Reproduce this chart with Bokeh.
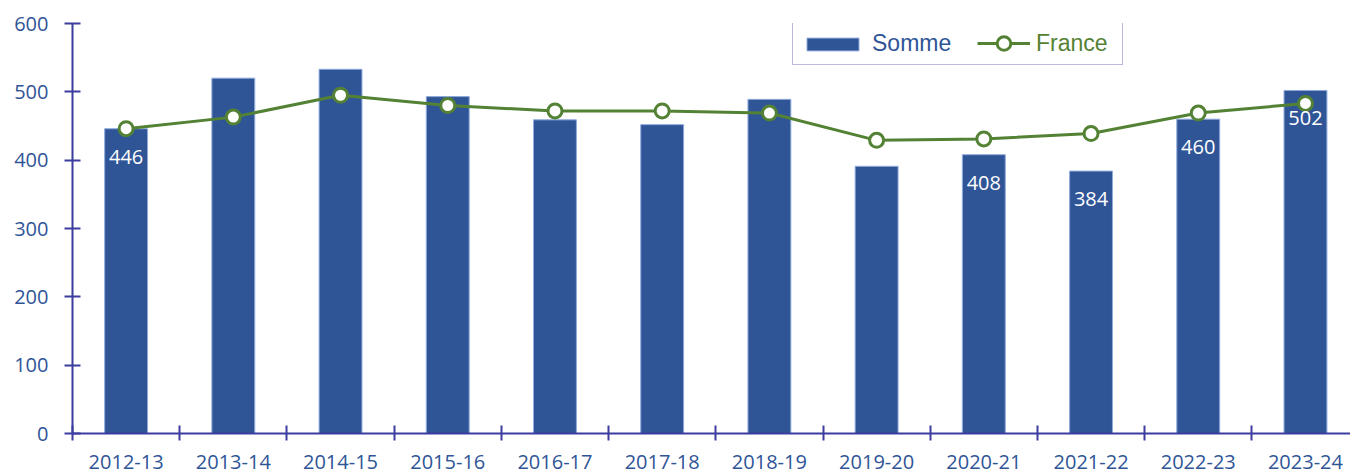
from bokeh.plotting import figure
from bokeh.models import (Range1d, FixedTicker, Legend, LegendItem, ColumnDataSource, LinearAxis)
from bokeh.core.properties import value
from bokeh.embed import file_html
from bokeh.resources import INLINE

categories = ["2012-13", "2013-14", "2014-15", "2015-16", "2016-17", "2017-18",
              "2018-19", "2019-20", "2020-21", "2021-22", "2022-23", "2023-24"]
somme = [446, 520, 533, 493, 459, 452, 489, 391, 408, 384, 460, 502]
france = [446, 463, 495, 480, 472, 472, 469, 429, 431, 439, 469, 483]
labelled = [0, 8, 9, 10, 11]
y_ticks = [0, 100, 200, 300, 400, 500, 600]

BLUE = "#2F5597"
GREEN = "#548235"
AXIS = "#3C3CA0"

xs = [i + 0.5 for i in range(len(categories))]
src = ColumnDataSource(dict(x=xs, somme=somme, france=france))
lab_src = ColumnDataSource(dict(x=[xs[i] for i in labelled],
                                y=[somme[i] for i in labelled],
                                t=[str(somme[i]) for i in labelled]))

p = figure(width=1350, height=474, output_backend="svg", toolbar_location=None,
           x_range=Range1d(0, 11.92), y_range=Range1d(0, 600),
           min_border_left=72, min_border_right=0, min_border_top=23, min_border_bottom=41,
           x_axis_type=None, y_axis_type=None)
p.outline_line_color = None
p.background_fill_color = "white"

# axes
yax = LinearAxis(ticker=FixedTicker(ticks=y_ticks))
yax.axis_line_color = AXIS
yax.axis_line_width = 2
yax.major_tick_line_color = AXIS
yax.major_tick_line_width = 2
yax.major_tick_in = 8
yax.major_tick_out = 8
yax.minor_tick_line_color = None
yax.major_label_text_font = "Open Sans"
yax.major_label_text_font_size = "20px"
yax.major_label_text_color = BLUE
yax.major_label_standoff = 16
p.add_layout(yax, "left")

xax = LinearAxis(ticker=FixedTicker(ticks=xs, minor_ticks=list(range(len(categories) + 1))))
xax.major_label_overrides = {x: c for x, c in zip(xs, categories)}
xax.axis_line_color = AXIS
xax.axis_line_width = 2
xax.major_tick_line_color = None
xax.major_tick_in = 0
xax.major_tick_out = 0
xax.minor_tick_line_color = AXIS
xax.minor_tick_line_width = 2
xax.minor_tick_in = 8
xax.minor_tick_out = 7
xax.major_label_text_font = "Open Sans"
xax.major_label_text_font_size = "20px"
xax.major_label_text_color = BLUE
xax.major_label_standoff = 14
p.add_layout(xax, "below")

p.ygrid.ticker = FixedTicker(ticks=y_ticks)
p.ygrid.grid_line_color = "#D9D9D9"
p.ygrid.grid_line_width = 2

bars = p.vbar(x="x", top="somme", width=0.4, source=src, fill_color=BLUE,
              line_color="#8FAADC", line_width=1)
line = p.line(x="x", y="france", source=src, line_color=GREEN, line_width=3)
pts = p.scatter(x="x", y="france", source=src, size=14, marker="circle",
                fill_color="white", line_color=GREEN, line_width=3)

p.text(x="x", y="y", text="t", source=lab_src, text_color="white",
       text_font=value("Open Sans"), text_font_size="20px",
       text_align="center", text_baseline="middle", y_offset=28)

leg1 = Legend(items=[LegendItem(label="Somme", renderers=[bars])],
              location=(720, 368), orientation="horizontal",
              border_line_color="#7474C0", border_line_width=1,
              background_fill_color="white", background_fill_alpha=1,
              padding=7, margin=0, spacing=0,
              glyph_width=65, glyph_height=16, label_standoff=7,
              label_width=243, label_height=26,
              label_text_font="Liberation Sans", label_text_font_size="23px",
              label_text_color=BLUE)
leg2 = Legend(items=[LegendItem(label="France", renderers=[line, pts])],
              location=(905, 373), orientation="horizontal",
              border_line_color=None, background_fill_alpha=0,
              padding=4, margin=0, spacing=0,
              glyph_width=53, glyph_height=34, label_standoff=6,
              label_height=26,
              label_text_font="Liberation Sans", label_text_font_size="23px",
              label_text_color=GREEN)
p.add_layout(leg1, "center")
p.add_layout(leg2, "center")

open("out.html", "w").write(file_html(p, INLINE))
